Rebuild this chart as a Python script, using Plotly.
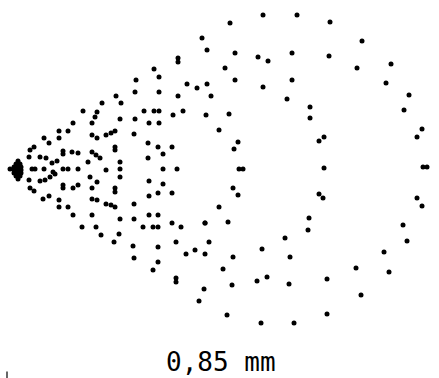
import plotly.graph_objects as go

# Spot positions (horizontal, vertical; vertical grows downward)
spot_x = [
    # right-hand ring area
    230, 263, 297, 330, 362,
    235, 258, 268, 292, 329,
    225, 235, 263, 292, 287, 310, 310,
    357, 391, 386, 409, 404, 422, 417, 423, 427,
    229, 219, 238, 234, 239, 243, 319, 324, 324, 233,
    238, 219, 228, 319, 323, 309, 308, 285, 262, 290, 233, 223,
    257, 267, 232, 289, 327, 227, 261, 294, 327,
    417, 422, 403, 407, 384, 356, 389, 361,
    # middle area
    202, 207, 178, 178, 154, 159, 136, 187, 197, 207, 116, 135, 159, 178, 211,
    121, 102, 144, 154, 159, 173, 183, 206, 120, 135, 149, 159,
    106, 111, 115, 134, 115, 115, 148, 158, 172, 163, 148, 120, 120, 163, 177,
    120, 149, 163, 115, 115, 158, 172, 149, 106, 111, 115, 134,
    120, 134, 149, 158, 172, 205, 143, 153, 158, 181, 205,
    119, 114, 133, 158, 176, 209, 186, 195, 205, 134, 158, 153, 176, 176, 204, 199,
    # left dense area (upper)
    83, 97, 95, 73, 92, 59, 68, 44, 49, 59, 92, 97, 34, 30, 29,
    63, 63, 72, 78, 92, 96, 100, 40, 46, 52, 57, 88,
    # centre row
    32, 35, 44, 53, 63, 68, 78, 106,
    # bright cluster at the left tip
    18, 16, 20, 14, 18, 21, 10, 14, 18, 21, 14, 18, 21, 16, 20, 18,
    # left dense area (lower)
    29, 40, 45, 50, 55, 90, 63, 63, 73, 78, 97, 92, 30, 34,
    43, 49, 59, 92, 97, 59, 68, 73, 92, 82, 96, 101,
]
spot_y = [
    23, 15, 15, 22, 41,
    53, 57, 61, 53, 56,
    68, 80, 87, 80, 99, 107, 118,
    68, 64, 83, 95, 110, 129, 137, 167, 167,
    114, 130, 142, 149, 169, 169, 141, 137, 168, 188,
    195, 207, 222, 194, 198, 218, 230, 238, 249, 257, 257, 269,
    281, 277, 285, 284, 279, 315, 323, 323, 314,
    198, 206, 225, 241, 252, 268, 272, 295,
    38, 50, 58, 62, 69, 77, 80, 84, 88, 84, 96, 92, 92, 96, 96,
    103, 103, 111, 111, 111, 115, 111, 115, 119, 119, 123, 123,
    135, 133, 131, 134, 147, 150, 143, 147, 147, 154, 158, 162, 169, 169, 169,
    177, 181, 184, 188, 192, 193, 193, 196, 204, 205, 207, 204,
    219, 219, 215, 215, 223, 223, 227, 227, 227, 227, 223,
    234, 242, 246, 247, 242, 242, 254, 250, 254, 258, 262, 270, 278, 282, 289, 301,
    111, 112, 117, 123, 123, 131, 131, 138, 143, 138, 135, 138, 147, 150, 157,
    151, 154, 152, 153, 152, 155, 158, 157, 158, 163, 161, 162,
    169, 169, 169, 172, 169, 169, 169, 170,
    161, 164, 164, 167, 167, 167, 169, 170, 170, 170, 173, 173, 173, 176, 176, 179,
    180, 181, 180, 177, 174, 177, 185, 188, 188, 185, 182, 188, 188, 191,
    199, 196, 200, 199, 200, 207, 207, 215, 215, 227, 227, 235,
]

# small stray tick at the lower-left corner
tick_x = [7]
tick_y = [375]

label_text = "0,85 mm"
label_x = 221
label_y = 362

fig = go.Figure()
fig.add_trace(go.Scatter(
    x=spot_x, y=spot_y, mode="markers",
    marker=dict(size=5, color="black", line=dict(width=0)),
    hoverinfo="skip", showlegend=False,
))
fig.add_trace(go.Scatter(
    x=tick_x, y=tick_y, mode="markers",
    marker=dict(symbol="line-ns", size=5, line=dict(width=1.5, color="#333")),
    hoverinfo="skip", showlegend=False,
))
fig.add_annotation(
    x=label_x, y=label_y, text=label_text, showarrow=False,
    font=dict(family="DejaVu Sans Mono", size=26, color="black"),
    xanchor="center", yanchor="middle", borderpad=0,
)
fig.update_layout(
    width=439, height=378,
    margin=dict(l=0, r=0, t=0, b=0),
    paper_bgcolor="white", plot_bgcolor="white",
    xaxis=dict(range=[0, 439], visible=False, fixedrange=True),
    yaxis=dict(range=[378, 0], visible=False, fixedrange=True),
)
fig.write_html(
    "out.html",
    config={"displayModeBar": False, "responsive": False},
    post_script="document.body.style.margin='0';document.body.style.overflow='hidden';",
)
